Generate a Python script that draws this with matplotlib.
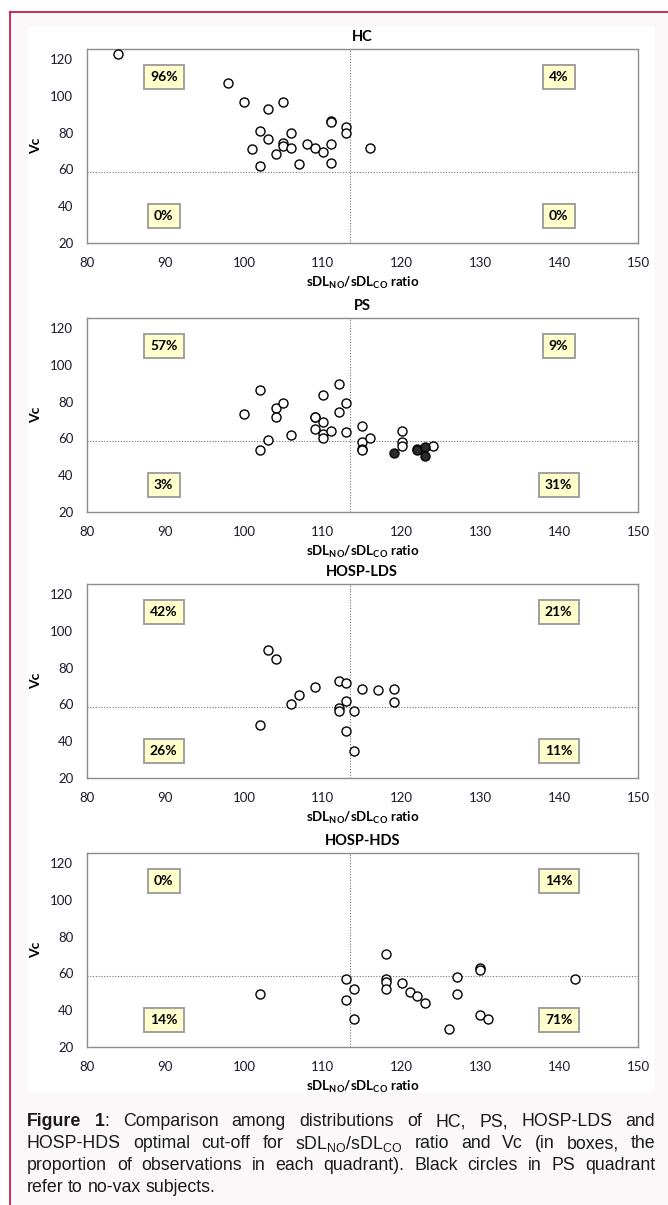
import matplotlib
matplotlib.use("Agg")
import matplotlib.pyplot as plt
from matplotlib.patches import Rectangle
from matplotlib.lines import Line2D

plt.rcParams['mathtext.fontset'] = 'custom'
plt.rcParams['mathtext.rm'] = 'Liberation Sans'
plt.rcParams['mathtext.bf'] = 'Lato:bold'

# quadrant cut-offs
x_cut = 113.5
y_cut = 58.5

# HC
hc_x = [84, 98, 100, 105, 103, 111, 111, 113, 113, 102, 106, 103, 105,
        105, 108, 106, 109, 110, 111, 101, 116, 104, 107, 111, 102]
hc_y = [122.7, 107, 96.5, 96.5, 92.8, 86.5, 86, 83, 79.6, 81, 79.8, 76.5,
        74.3, 72.5, 73.8, 71.4, 71.4, 69.5, 73.8, 71, 71.4, 68.4, 62.8, 63.3, 61.7]
hc_pct = ['96%', '4%', '0%', '0%']

# PS (open = vaccinated, filled = no-vax)
ps_x = [100, 102, 102, 103, 104, 104, 105, 106, 109, 109, 109, 110, 110, 110,
        110, 111, 112, 112, 113, 113, 115, 115, 115, 115, 116, 120, 120, 120, 124]
ps_y = [73.5, 86.5, 53.5, 59.2, 76.6, 71.7, 79.1, 61.8, 71.9, 71.4, 65.2, 83.7,
        69.2, 62.5, 60.3, 64.3, 89.8, 74.2, 79.3, 63.4, 66.7, 58.3, 54, 53.5,
        60.3, 64.1, 57.8, 56, 56]
ps_novax_x = [119, 122, 122, 123, 123]
ps_novax_y = [52.2, 54, 53.5, 55.4, 50.2]
ps_pct = ['57%', '9%', '3%', '31%']

# HOSP-LDS
lds_x = [103, 104, 102, 106, 107, 109, 112, 113, 113, 112, 112, 114, 113,
         114, 115, 117, 119, 119]
lds_y = [89.8, 84.6, 48.6, 60.3, 65.4, 69.7, 72.6, 71.5, 61.8, 58, 56.7,
         56.5, 45.5, 34.6, 68.5, 67.7, 68.5, 61.6]
lds_pct = ['42%', '21%', '26%', '11%']

# HOSP-HDS
hds_x = [102, 113, 113, 114, 114, 118, 118, 118, 118, 120, 121, 122, 123,
         126, 127, 127, 130, 130, 130, 131, 142]
hds_y = [48.8, 56.9, 45.5, 51.8, 35, 70.6, 56.9, 55.6, 51.6, 54.9, 49.8,
         47.5, 43.9, 29.9, 58, 48.8, 62.9, 62, 37.6, 35, 56.9]
hds_pct = ['0%', '14%', '14%', '71%']

W, H = 668, 1205
fig = plt.figure(figsize=(W / 100, H / 100), dpi=100)
fig.patch.set_facecolor('white')

# page background, red border, white chart area
fig.patches.append(Rectangle((10 / W, 0), 1, 1 - 12 / H, transform=fig.transFigure,
                             facecolor='#fcf8f9', edgecolor='none', zorder=-3))
fig.patches.append(Rectangle((28 / W, 1 - 1092 / H), (654 - 28) / W, (1092 - 27) / H,
                             transform=fig.transFigure, facecolor='white',
                             edgecolor='none', zorder=-2))
fig.lines.append(Line2D([10 / W, 1], [1 - 12 / H] * 2, transform=fig.transFigure,
                        color='#c41e48', lw=1.3))
fig.lines.append(Line2D([10 / W] * 2, [0, 1 - 12 / H], transform=fig.transFigure,
                        color='#c41e48', lw=1.3))

panels = [
    ('HC', hc_x, hc_y, hc_pct, 49, 243),
    ('PS', ps_x, ps_y, ps_pct, 318, 512),
    ('HOSP-LDS', lds_x, lds_y, lds_pct, 584, 778),
    ('HOSP-HDS', hds_x, hds_y, hds_pct, 853, 1047),
]

left, right = 86.5, 638
for title, xs, ys, pct, top, bot in panels:
    ax = fig.add_axes([left / W, 1 - bot / H, (right - left) / W, (bot - top) / H])
    ax.set_xlim(80, 150)
    ax.set_ylim(20, 125.5)
    ax.set_xticks(range(80, 151, 10))
    ax.set_yticks(range(20, 121, 20))
    ax.tick_params(length=0, labelsize=9.5, colors='#1a1a2e')
    ax.tick_params(axis='x', pad=10)
    ax.tick_params(axis='y', pad=9.5)
    for lab in ax.get_xticklabels() + ax.get_yticklabels():
        lab.set_family('Lato')
    for sp in ax.spines.values():
        sp.set_color('#8c8c8c')
        sp.set_linewidth(1.0)
    ax.axvline(x_cut, color='#707070', lw=0.8, ls=(0, (1, 1.5)), zorder=1)
    ax.axhline(y_cut, color='#707070', lw=0.8, ls=(0, (1, 1.5)), zorder=1)
    ax.plot(xs, ys, 'o', ms=6.5, mfc='white', mec='black', mew=1.0, zorder=3)
    if title == 'PS':
        ax.plot(ps_novax_x, ps_novax_y, 'o', ms=6.5, mfc='#2b2b2b', mec='black',
                mew=1.0, zorder=3)
    ax.set_title(title, fontsize=10.5, fontweight='bold', family='Lato', pad=6)
    ax.set_ylabel('Vc', fontsize=10, fontweight='bold', family='Lato', labelpad=6)
    ax.set_xlabel(r'$\mathbf{sDL_{NO}/sDL_{CO}}$ ratio', fontsize=9.5,
                  fontweight='bold', family='Lato', labelpad=4)
    box = dict(boxstyle='square,pad=0.45', facecolor='#ffffcc', edgecolor='#a0a0a0', lw=1.4)
    for (bx, by), p in zip([(0.14, 0.855), (0.856, 0.855), (0.14, 0.14), (0.856, 0.14)], pct):
        ax.text(bx, by, p, transform=ax.transAxes, ha='center', va='center',
                fontsize=10, fontweight='bold', family='Lato', bbox=box, zorder=4)

# justified caption
cap_lines = [
    ([[('Figure', True)], [('1', True), (':', False)], [('Comparison', False)],
      [('among', False)], [('distributions', False)], [('of', False)], [('HC,', False)],
      [('PS,', False)], [('HOSP-LDS', False)], [('and', False)]], True),
    ([[(w, False)] for w in ['HOSP-HDS', 'optimal', 'cut-off', 'for']] +
     [[(r'$\mathrm{sDL_{NO}/sDL_{CO}}$', False)]] +
     [[(w, False)] for w in ['ratio', 'and', 'Vc', '(in', 'boxes,', 'the']], True),
    ([[(w, False)] for w in 'proportion of observations in each quadrant). Black circles in PS quadrant'.split()], True),
    ([[(w, False)] for w in 'refer to no-vax subjects.'.split()], False),
]
cap_y = [1122, 1144, 1166, 1188]
x0, x1 = 27, 655
fs = 12.8
fig.canvas.draw()
renderer = fig.canvas.get_renderer()
for (words, justify), yp in zip(cap_lines, cap_y):
    items = []
    for segs in words:
        parts = []
        for s, b in segs:
            t = fig.text(0, 1 - yp / H, s, fontsize=fs, family='Liberation Sans',
                         fontweight='bold' if b else 'normal', va='center', ha='left',
                         color='#1a1a1a')
            parts.append((t, t.get_window_extent(renderer).width))
        items.append(parts)
    widths = [sum(w for _, w in parts) for parts in items]
    space = 4.5
    if justify and len(items) > 1:
        space = (x1 - x0 - sum(widths)) / (len(items) - 1)
    x = x0
    for parts in items:
        for t, w in parts:
            t.set_x(x / W)
            x += w
        x += space

fig.savefig('out.png', dpi=100, facecolor=fig.get_facecolor())
